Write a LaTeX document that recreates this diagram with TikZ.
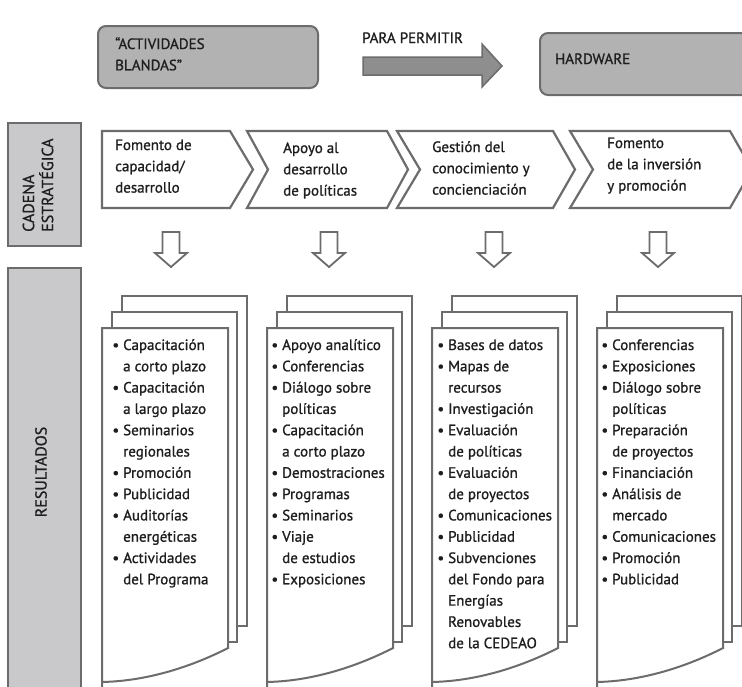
\documentclass[tikz,border=0pt]{standalone}
\usepackage{fontspec}
\setmainfont{PT Sans}[RawFeature={embolden=1.0}]
\definecolor{linegray}{HTML}{6C6C6C}
\definecolor{topfill}{HTML}{B2B2B2}
\definecolor{sidefill}{HTML}{C9C9CB}
\definecolor{arrfill}{HTML}{8E8E8E}
\definecolor{textcol}{HTML}{1E1E1E}
\newcommand\bul{\llap{\textbullet\hspace{4pt}}}
\begin{document}
\begin{tikzpicture}[x=1pt,y=-1pt,
  topbox/.style={fill=topfill,draw=linegray,line width=2pt,rounded corners=8pt},
  sidebox/.style={fill=sidefill,draw=linegray,line width=2pt},
  chev/.style={fill=white,draw=linegray,line width=2.2pt,line join=miter},
  sheet/.style={fill=white,draw=linegray,line width=2pt,line join=miter},
  hollow/.style={fill=white,draw=linegray,line width=1.8pt,line join=miter},
  bigarrow/.style={fill=arrfill,draw=linegray,line width=1.5pt,line join=miter},
  txt/.style={inner sep=0pt,text=textcol,font=\fontsize{15}{21.3}\selectfont,align=left},
  sidetxt/.style={inner sep=0pt,text=textcol,font=\fontsize{16}{19}\selectfont,align=left},
  listtxt/.style={inner sep=0pt,text=textcol,font=\fontsize{15}{21.3}\selectfont,align=left}]
\clip (0,0) rectangle (742,686);
\fill[white] (0,0) rectangle (742,686);

% top row
\draw[topbox] (98,26) rectangle (318,88);
\node[txt,anchor=base west] (blandas) at (115,70.3) {“ACTIVIDADES\\BLANDAS”};
\node[txt,anchor=base west] (permitir) at (362,43) {PARA PERMITIR};
\draw[bigarrow] (363,57) -- (482,57) -- (482,44) -- (502,66) -- (482,87) -- (482,75) -- (363,75) -- cycle;
\draw[topbox] (540,33) rectangle (760,95);
\node[txt,anchor=base west] (hardware) at (555,64) {HARDWARE};

% side boxes
\draw[sidebox] (8,123) rectangle (81,246);
\node[sidetxt,rotate=90,anchor=west] (cadena) at (38,232) {CADENA\\ESTRATÉGICA};
\draw[sidebox] (8,268) rectangle (81,700);
\node[sidetxt,rotate=90] (resultados) at (41,472) {RESULTADOS};

% chevrons
\draw[chev] (102,131) -- (230,131) -- (253,169.5) -- (230,208) -- (102,208) -- cycle;
\draw[chev] (247,131) -- (387,131) -- (408,169.5) -- (387,208) -- (247,208) -- (268,169.5) -- cycle;
\draw[chev] (397,131) -- (553,131) -- (575,169.5) -- (553,208) -- (397,208) -- (420,169.5) -- cycle;
\draw[chev] (570,131) -- (730,131) -- (752,169.5) -- (730,208) -- (570,208) -- (593,169.5) -- cycle;
\node[txt,anchor=base west] (c1) at (115,192.6) {Fomento de\\capacidad/\\desarrollo};
\node[txt,anchor=base west] (c2) at (283,195.6) {Apoyo al\\desarrollo\\de políticas};
\node[txt,anchor=base west] (c3) at (432,194.6) {Gestión del\\conocimiento y\\concienciación};
\node[txt,anchor=base west] (c4) at (607,190.6) {Fomento\\de la inversión\\y promoción};

% hollow down arrows
\foreach \cx in {171,329,494,658}{
  \draw[hollow] (\cx-8.5,232) -- (\cx+8.5,232) -- (\cx+8.5,253) -- (\cx+16,253) -- (\cx,267) -- (\cx-16,253) -- (\cx-8.5,253) -- cycle;
}

% document stacks
\foreach \dx in {0,165,330,495}{
  \draw[sheet] (122+\dx,296) rectangle (247+\dx,626);
  \draw[sheet] (112+\dx,312) rectangle (237+\dx,642);
  \draw[sheet] (102+\dx,328) -- (228+\dx,328) -- (228+\dx,648) .. controls (195+\dx,665) and (150+\dx,681) .. (102+\dx,682) -- (102+\dx,700) -- cycle;
}

\node[listtxt,anchor=base west] (r1) at (123,584.3) {\bul Capacitación\\a corto plazo\\\bul Capacitación\\a largo plazo\\\bul Seminarios\\regionales\\\bul Promoción\\\bul Publicidad\\\bul Auditorías\\energéticas\\\bul Actividades\\del Programa};
\node[listtxt,anchor=base west] (r2) at (282,584.3) {\bul Apoyo analítico\\\bul Conferencias\\\bul Diálogo sobre\\políticas\\\bul Capacitación\\a corto plazo\\\bul Demostraciones\\\bul Programas\\\bul Seminarios\\\bul Viaje\\de estudios\\\bul Exposiciones};
\node[listtxt,anchor=base west] (r3) at (448,648.2) {\bul Bases de datos\\\bul Mapas de\\recursos\\\bul Investigación\\\bul Evaluación\\de políticas\\\bul Evaluación\\de proyectos\\\bul Comunicaciones\\\bul Publicidad\\\bul Subvenciones\\del Fondo para\\Energías\\Renovables\\de la CEDEAO};
\node[listtxt,anchor=base west] (r4) at (612,584.3) {\bul Conferencias\\\bul Exposiciones\\\bul Diálogo sobre\\políticas\\\bul Preparación\\de proyectos\\\bul Financiación\\\bul Análisis de\\mercado\\\bul Comunicaciones\\\bul Promoción\\\bul Publicidad};
\end{tikzpicture}
\end{document}
